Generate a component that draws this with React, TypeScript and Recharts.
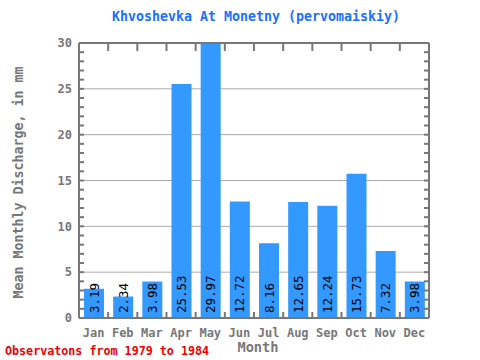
import React from 'react';
import { ComposedChart, Bar, Line, XAxis, YAxis, CartesianGrid, LabelList, Label } from 'recharts';

const months = ['Jan', 'Feb', 'Mar', 'Apr', 'May', 'Jun', 'Jul', 'Aug', 'Sep', 'Oct', 'Nov', 'Dec'];
const discharge = [3.19, 2.34, 3.98, 25.53, 29.97, 12.72, 8.16, 12.65, 12.24, 15.73, 7.32, 3.98];
const yTicks = [0, 5, 10, 15, 20, 25, 30];
const minorTicks = Array.from({ length: 31 }, (_, i) => i);

const data = months.map((m, i) => ({ month: m, value: discharge[i] }));

const FONT = '"DejaVu Sans Mono", "Liberation Mono", monospace';
const AXIS = '#777777';

const NoTick = () => <g />;

const BottomTick = (props: any) => {
  const { x, y, payload, index, visibleTicksCount } = props;
  const off = payload && payload.offset ? payload.offset : 14.58;
  const isLast = index === (visibleTicksCount ?? months.length) - 1;
  return (
    <g>
      <line x1={x - off} y1={y} x2={x - off} y2={y - 6} stroke={AXIS} strokeWidth={2} />
      {isLast && <line x1={x + off} y1={y} x2={x + off} y2={y - 6} stroke={AXIS} strokeWidth={2} />}
      <text
        x={x}
        y={y + 19}
        textAnchor="middle"
        fontFamily={FONT}
        fontWeight="bold"
        fontSize={12}
        fill={AXIS}
      >
        {payload.value}
      </text>
    </g>
  );
};

const TopTick = (props: any) => {
  const { x, y, payload, index, visibleTicksCount } = props;
  const off = payload && payload.offset ? payload.offset : 14.58;
  const isLast = index === (visibleTicksCount ?? months.length) - 1;
  return (
    <g>
      <line x1={x - off} y1={y} x2={x - off} y2={y + 8} stroke={AXIS} strokeWidth={2} />
      {isLast && <line x1={x + off} y1={y} x2={x + off} y2={y + 8} stroke={AXIS} strokeWidth={2} />}
    </g>
  );
};

const ValueLabel = (props: any) => {
  const { x, y, width, height, value } = props;
  const cx = x + width / 2 + 4.5;
  const cy = y + height - 5;
  return (
    <text
      x={cx}
      y={cy}
      transform={`rotate(-90 ${cx} ${cy})`}
      textAnchor="start"
      fontFamily={FONT}
      fontSize={12.5}
      fill="#000"
    >
      {Number(value).toFixed(2)}
    </text>
  );
};

export default function App() {
  return (
    <div style={{ position: 'absolute', left: 0, top: 0, width: 480, height: 360, background: '#fff' }}>
      <div
        style={{
          position: 'absolute',
          left: 0,
          width: 512,
          top: 9,
          textAlign: 'center',
          fontFamily: FONT,
          fontWeight: 'bold',
          fontSize: 13.3,
          color: '#1a6fff',
        }}
      >
        Khvoshevka At Monetny (pervomaiskiy)
      </div>
      <ComposedChart
        width={480}
        height={360}
        data={data}
        margin={{ top: 43, right: 51, left: 0, bottom: 0 }}
        barCategoryGap={0}
      >
        <CartesianGrid horizontal vertical={false} stroke="#aaaaaa" yAxisId="main" xAxisId="cat" />
        <XAxis
          dataKey="month"
          xAxisId="cat"
          height={42}
          axisLine={{ stroke: AXIS, strokeWidth: 2 }}
          tickLine={false}
          tickSize={0}
          tickMargin={0}
          tick={BottomTick}
          interval={0}
        >
          <Label
            content={(p: any) => {
              const vb = p.viewBox;
              return (
                <text
                  x={vb.x + vb.width / 2 + 4}
                  y={vb.y + 34}
                  textAnchor="middle"
                  fontFamily={FONT}
                  fontWeight="bold"
                  fontSize={13.7}
                  fill={AXIS}
                >
                  Month
                </text>
              );
            }}
          />
        </XAxis>
        <XAxis
          dataKey="month"
          xAxisId="top"
          orientation="top"
          mirror
          height={1}
          interval={0}
          tickSize={0}
          tickMargin={0}
          tick={TopTick}
          tickLine={false}
          axisLine={{ stroke: AXIS, strokeWidth: 2 }}
        />
        <YAxis
          yAxisId="main"
          width={79}
          domain={[0, 30]}
          ticks={yTicks}
          allowDataOverflow
          axisLine={{ stroke: AXIS, strokeWidth: 2 }}
          tickLine={false}
          tickSize={5}
          tickMargin={2}
          tick={{ fill: AXIS, fontFamily: FONT, fontWeight: 'bold', fontSize: 12 }}
        >
          <Label
            content={(p: any) => {
              const vb = p.viewBox;
              const cx = 23;
              const cy = vb.y + vb.height / 2 + 2;
              return (
                <text
                  x={cx}
                  y={cy}
                  transform={`rotate(-90 ${cx} ${cy})`}
                  textAnchor="middle"
                  fontFamily={FONT}
                  fontWeight="bold"
                  fontSize={13.3}
                  fill={AXIS}
                >
                  Mean Monthly Discharge, in mm
                </text>
              );
            }}
          />
        </YAxis>
        <YAxis
          yAxisId="lminor"
          orientation="left"
          mirror
          width={1}
          domain={[0, 30]}
          allowDataOverflow
          ticks={minorTicks}
          interval={0}
          tickSize={5}
          tick={NoTick}
          axisLine={false}
          tickLine={{ stroke: AXIS, strokeWidth: 2 }}
        />
        <YAxis
          yAxisId="rminor"
          orientation="right"
          mirror
          width={1}
          domain={[0, 30]}
          allowDataOverflow
          ticks={minorTicks}
          interval={0}
          tickSize={5}
          tick={NoTick}
          axisLine={{ stroke: AXIS, strokeWidth: 2 }}
          tickLine={{ stroke: AXIS, strokeWidth: 2 }}
        />
        <Bar
          dataKey="value"
          xAxisId="cat"
          yAxisId="main"
          fill="#3399ff"
          barSize={20}
          isAnimationActive={false}
        >
          <LabelList dataKey="value" content={ValueLabel} />
        </Bar>
        <Line
          dataKey="value"
          xAxisId="top"
          yAxisId="rminor"
          stroke="none"
          dot={false}
          activeDot={false}
          isAnimationActive={false}
        />
        <Line
          dataKey="value"
          xAxisId="cat"
          yAxisId="lminor"
          stroke="none"
          dot={false}
          activeDot={false}
          isAnimationActive={false}
        />
      </ComposedChart>
      <div
        style={{
          position: 'absolute',
          left: 5,
          top: 344,
          fontFamily: FONT,
          fontWeight: 'bold',
          fontSize: 11.7,
          color: '#ee0000',
          whiteSpace: 'nowrap',
        }}
      >
        Observatons from 1979 to 1984
      </div>
    </div>
  );
}
